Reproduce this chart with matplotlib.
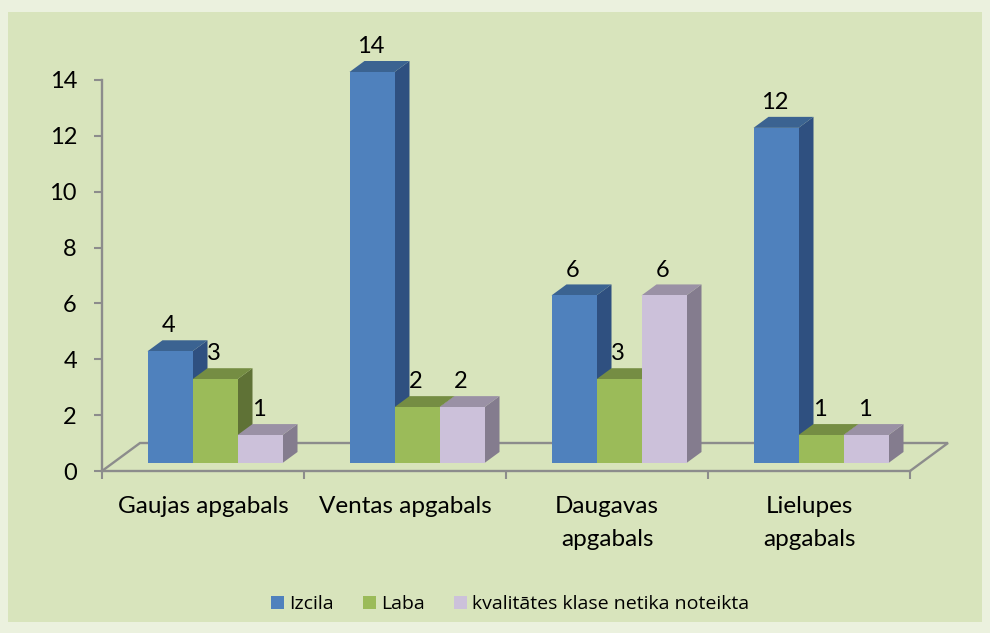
import numpy as np
import matplotlib
matplotlib.use("Agg")
import matplotlib.pyplot as plt
from matplotlib.patches import Polygon, Patch, Rectangle

plt.rcParams['font.family'] = ['Lato', 'DejaVu Sans']

categories = ['Gaujas apgabals', 'Ventas apgabals', 'Daugavas\napgabals', 'Lielupes\napgabals']
series_names = ['Izcila', 'Laba', 'kvalitātes klase netika noteikta']
izcila = [4, 14, 6, 12]
laba = [3, 2, 3, 1]
neteikta = [1, 2, 6, 1]

series = [izcila, laba, neteikta]
# front, top, side shades
colors = [('#4f81bd', '#3b6391', '#2f5080'),
          ('#9bbb59', '#758d43', '#5f7236'),
          ('#ccc1da', '#9a91a5', '#847c8e')]
axis_col = '#8c8c8c'

fig = plt.figure(figsize=(9.9, 6.33), dpi=100, facecolor='#ebf1de')
fig.add_artist(Rectangle((8 / 990, 1 - 622 / 633), 974 / 990, 610 / 633,
                         transform=fig.transFigure, fc='#d8e4bc', ec='none', zorder=-1))

ax = fig.add_axes([102 / 990, 1 - 471 / 633, 808 / 990, 391 / 633])
ax.patch.set_alpha(0)
ax.set_xlim(0, 4)
ax.set_ylim(0, 14)

# 3d look, all in data units
bar_w = 45 / 202
bar_start = 45.5 / 202
base = 8 / 27.93
dx = 15 / 202
dy = 11 / 27.93
floor_dx = 38 / 202
floor_dy = 28 / 27.93

# floor outline
ax.plot([0, floor_dx, 4 + floor_dx, 4], [0, floor_dy, floor_dy, 0],
        color=axis_col, lw=1.7, clip_on=False, zorder=1, solid_joinstyle='miter')

for i in range(len(categories)):
    for j, vals in enumerate(series):
        x0 = i + bar_start + j * bar_w
        x1 = x0 + bar_w
        top = vals[i] + base
        front, top_c, side = colors[j]
        z = 3 + i + j * 0.1
        ax.add_patch(Polygon([(x1, base), (x1 + dx, base + dy), (x1 + dx, top + dy), (x1, top)],
                             fc=side, ec='none', clip_on=False, zorder=z))
        ax.add_patch(Polygon([(x0, top), (x0 + dx, top + dy), (x1 + dx, top + dy), (x1, top)],
                             fc=top_c, ec='none', clip_on=False, zorder=z))
        ax.add_patch(Rectangle((x0, base), bar_w, vals[i], fc=front, ec='none',
                               clip_on=False, zorder=z + 0.01))
        ax.text((x0 + x1) / 2 - 0.005, top + 0.91, str(vals[i]), ha='center', va='center',
                fontsize=17, color='black', zorder=20, clip_on=False)

for s in ['top', 'right']:
    ax.spines[s].set_visible(False)
for s in ['left', 'bottom']:
    ax.spines[s].set_color(axis_col)
    ax.spines[s].set_linewidth(1.7)

ax.set_yticks(range(0, 15, 2))
ax.set_xticks(range(5))
ax.set_xticklabels([])
ax.set_xticks(np.arange(4) + 0.5, categories, minor=True, fontsize=17.5, linespacing=1.72)
ax.tick_params(axis='x', which='minor', length=0, pad=18)
ax.tick_params(axis='both', which='major', length=6, width=1.5, color=axis_col)
ax.tick_params(axis='y', labelsize=17, pad=12)

handles = [Patch(fc=c[0], ec='none') for c in colors]
fig.legend(handles, series_names, loc='center', bbox_to_anchor=(510 / 990, 1 - 604 / 633),
           ncol=3, frameon=False, handlelength=0.67, handleheight=0.67,
           handletextpad=0.26, columnspacing=1.5, prop={'family': 'Open Sans', 'size': 14})

fig.savefig('out.png', dpi=100, facecolor=fig.get_facecolor())
